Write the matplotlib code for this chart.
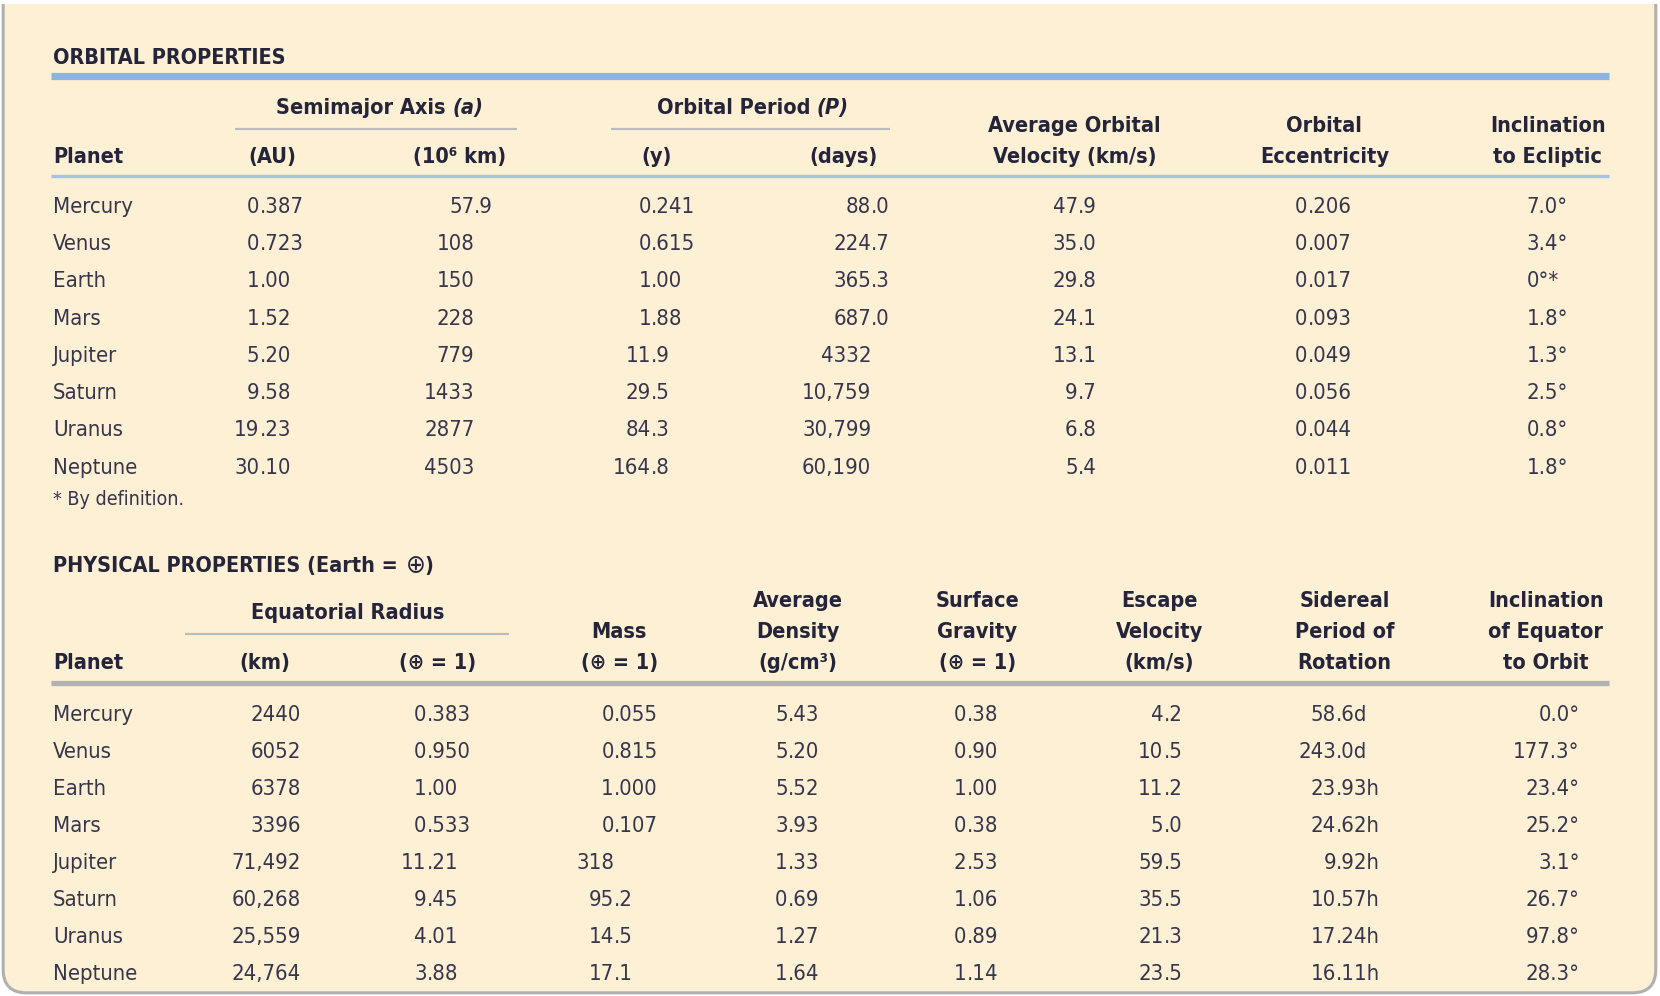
import matplotlib
matplotlib.use("Agg")
import matplotlib.pyplot as plt
from matplotlib.patches import FancyBboxPatch, Rectangle

# ---- data ----
planets = ['Mercury', 'Venus', 'Earth', 'Mars', 'Jupiter', 'Saturn', 'Uranus', 'Neptune']

semimajor_au = ['0.387', '0.723', '1.00', '1.52', '5.20', '9.58', '19.23', '30.10']
semimajor_km = ['57.9', '108', '150', '228', '779', '1433', '2877', '4503']
period_y = ['0.241', '0.615', '1.00', '1.88', '11.9', '29.5', '84.3', '164.8']
period_days = ['88.0', '224.7', '365.3', '687.0', '4332', '10,759', '30,799', '60,190']
velocity = ['47.9', '35.0', '29.8', '24.1', '13.1', '9.7', '6.8', '5.4']
eccentricity = ['0.206', '0.007', '0.017', '0.093', '0.049', '0.056', '0.044', '0.011']
incl_ecliptic = ['7.0°', '3.4°', '0°*', '1.8°', '1.3°', '2.5°', '0.8°', '1.8°']

radius_km = ['2440', '6052', '6378', '3396', '71,492', '60,268', '25,559', '24,764']
radius_rel = ['0.383', '0.950', '1.00', '0.533', '11.21', '9.45', '4.01', '3.88']
mass = ['0.055', '0.815', '1.000', '0.107', '318', '95.2', '14.5', '17.1']
density = ['5.43', '5.20', '5.52', '3.93', '1.33', '0.69', '1.27', '1.64']
gravity = ['0.38', '0.90', '1.00', '0.38', '2.53', '1.06', '0.89', '1.14']
escape = ['4.2', '10.5', '11.2', '5.0', '59.5', '35.5', '21.3', '23.5']
rotation = ['58.6d', '243.0d', '23.93h', '24.62h', '9.92h', '10.57h', '17.24h', '16.11h']
incl_orbit = ['0.0°', '177.3°', '23.4°', '25.2°', '3.1°', '26.7°', '97.8°', '28.3°']

# ---- style ----
BG = '#fef0d4'
HEAD = '#24243a'
BODY = '#35354c'
BLUE = '#8db3e0'
BLUE2 = '#a6c2e4'
GRAY = '#bcbcbc'
FAM = ['DejaVu Sans']
STRETCH = 'condensed'
FS = 15.8   # body
HS = 15.6   # headers

fig = plt.figure(figsize=(16.6, 9.96), dpi=100)
fig.patch.set_facecolor('white')
ax = fig.add_axes([0, 0, 1, 1])
ax.set_xlim(0, 1568)
ax.set_ylim(940, 0)
ax.axis('off')

# card background, rounded at the bottom
ax.add_patch(FancyBboxPatch((3, -40), 1561, 977, boxstyle='round,pad=0,rounding_size=22',
                            facecolor=BG, edgecolor='#b0b0b0', linewidth=2.2))
ax.add_patch(Rectangle((0, 0), 1568, 4, facecolor='white', edgecolor='none', zorder=2))


def txt(x, y, s, ha='left', bold=False, italic=False, size=None, color=None):
    if size is None:
        size = HS if bold else FS
    return ax.text(x, y, s, ha=ha, va='baseline', fontsize=size,
                   family=FAM, fontstretch=STRETCH,
                   fontweight='bold' if bold else 'normal',
                   fontstyle='italic' if italic else 'normal',
                   color=color or (HEAD if bold else BODY), zorder=3)


def dec(x, y, s):
    # line numbers up on the decimal point
    if '.' in s:
        i = s.index('.')
        left, right = s[:i], s[i:]
    else:
        left, right = s, ''
    txt(x, y, left, ha='right')
    if right:
        txt(x, y, right, ha='left')


def hline(x0, x1, y, color, lw):
    ax.plot([x0, x1], [y, y], color=color, lw=lw, solid_capstyle='butt', zorder=2)


def header(x, y_base, lines, step=29):
    n = len(lines)
    for k, line in enumerate(lines):
        txt(x, y_base - (n - 1 - k) * step, line, ha='center', bold=True)


# ================= ORBITAL PROPERTIES =================
txt(50, 60, 'ORBITAL PROPERTIES', bold=True, size=15.5)
hline(48, 1520, 72, BLUE, 5.2)

txt(421, 108, 'Semimajor Axis', ha='right', bold=True)
txt(427, 108, '(a)', ha='left', bold=True, italic=True)
hline(222, 488, 122, GRAY, 1.6)
txt(766, 108, 'Orbital Period', ha='right', bold=True)
txt(771, 108, '(P)', ha='left', bold=True, italic=True)
hline(577, 841, 122, GRAY, 1.6)

hb = 154
txt(50, hb, 'Planet', bold=True)
header(257, hb, ['(AU)'])
header(434, hb, ['(10⁶ km)'])
header(620, hb, ['(y)'])
header(797, hb, ['(days)'])
header(1015, hb, ['Average Orbital', 'Velocity (km/s)'])
header(1251, hb, ['Orbital', 'Eccentricity'])
header(1462, hb, ['Inclination', 'to Ecliptic'])
hline(48, 1520, 166, BLUE2, 2.4)

orbital_cols = [(245, semimajor_au), (448, semimajor_km), (615, period_y),
                (823, period_days), (1018, velocity), (1235, eccentricity)]
for i, name in enumerate(planets):
    yb = 201 + i * 35.15
    txt(50, yb, name)
    for xd, col in orbital_cols:
        dec(xd, yb, col[i])
    txt(1442, yb, incl_ecliptic[i], ha='left')

txt(50, 477, '* By definition.', size=14)

# ================= PHYSICAL PROPERTIES =================
t = txt(50, 540, 'PHYSICAL PROPERTIES (Earth = ', bold=True, size=15.5)
fig.canvas.draw()
bb = t.get_window_extent().transformed(ax.transData.inverted())
txt(bb.x1 + 1, 541, '⊕', size=19, color=HEAD)
txt(bb.x1 + 19, 540, ')', bold=True, size=15.5)

txt(328, 584, 'Equatorial Radius', ha='center', bold=True)
hline(175, 481, 598, GRAY, 1.6)

pb = 631
txt(50, pb, 'Planet', bold=True)
header(250, pb, ['(km)'])
header(413, pb, ['(⊕ = 1)'])
header(585, pb, ['Mass', '(⊕ = 1)'])
header(754, pb, ['Average', 'Density', '(g/cm³)'])
header(923, pb, ['Surface', 'Gravity', '(⊕ = 1)'])
header(1095, pb, ['Escape', 'Velocity', '(km/s)'])
header(1270, pb, ['Sidereal', 'Period of', 'Rotation'])
header(1460, pb, ['Inclination', 'of Equator', 'to Orbit'])
hline(48, 1520, 645, '#b2b2b2', 3.8)

physical_cols = [(284, radius_km), (403, radius_rel), (580, mass), (744, density),
                 (913, gravity), (1099, escape), (1262, rotation)]
for i, name in enumerate(planets):
    yb = 680 + i * 35.0
    txt(50, yb, name)
    for xd, col in physical_cols:
        dec(xd, yb, col[i])
    txt(1492, yb, incl_orbit[i], ha='right')

fig.savefig('out.png', dpi=100, facecolor=fig.get_facecolor())
